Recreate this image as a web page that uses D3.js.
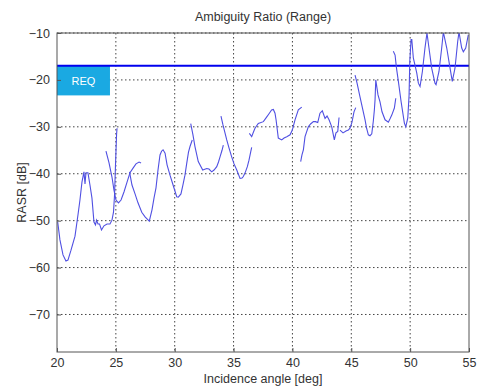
<!DOCTYPE html>
<html>
<head>
<meta charset="utf-8">
<script src="https://cdn.jsdelivr.net/npm/d3@7"></script>
<style>
  body { margin: 0; background: #fff; }
  text { font-family: "Liberation Sans", Arial, sans-serif; fill: #333; }
</style>
</head>
<body>
<div id="chart"></div>
<script>
// DATA
const xTicks = [20, 25, 30, 35, 40, 45, 50, 55];
const yTicks = [-10, -20, -30, -40, -50, -60, -70];
const reqLevel = -17;
const reqBox = [20, 24.5, -17, -23.3];   // x0, x1, y0, y1
const reqLabel = "REQ";

// each swath piece as [angle, dB]
const seg1 = [[20.06,-50.3],[20.25,-54.1],[20.51,-57.3],[20.76,-58.6],[20.93,-58.4],[21.19,-56.3],[21.53,-53.3],
  [21.78,-48.8],[21.95,-45.6],[22.12,-41.8],[22.29,-39.6],[22.38,-42.2],[22.46,-39.8],[22.63,-39.8],[22.80,-42.4],
  [22.97,-45.2],[23.14,-50.3],[23.27,-50.9],[23.36,-49.9],[23.48,-50.7],[23.61,-50.7],[23.78,-52.0],[23.99,-51.1],
  [24.25,-50.7],[24.50,-50.7],[24.67,-49.9],[24.80,-48.2],[24.89,-44.5],[24.97,-38.1],[25.06,-31.7],[25.10,-30.3]];
const seg2 = [[24.16,-35.2],[24.42,-37.7],[24.67,-40.7],[24.84,-43.5],[25.01,-45.6],[25.22,-46.2],[25.44,-45.6],
  [25.69,-43.9],[25.95,-41.8],[26.20,-39.8],[26.46,-38.8],[26.71,-37.9],[26.97,-37.5],[27.14,-37.7]];
const seg3 = [[26.16,-39.6],[26.37,-42.4],[26.63,-44.3],[26.88,-46.2],[27.20,-48.2],[27.48,-49.2],[27.84,-50.1],
  [28.07,-47.7],[28.24,-45.2],[28.41,-43.0],[28.58,-39.2],[28.75,-36.0],[28.88,-35.2],[29.01,-34.9],[29.18,-35.6],
  [29.35,-38.1],[29.60,-40.3],[29.86,-42.4],[30.17,-44.9],[30.31,-45.0],[30.53,-44.3],[30.70,-42.4],[30.87,-40.3],
  [31.02,-37.8],[31.17,-35.4],[31.30,-34.2],[31.49,-32.8]];
const seg4 = [[31.36,-29.3],[31.55,-31.7],[31.72,-34.2],[32.00,-37.4],[32.38,-39.2],[32.72,-38.9],[32.91,-39.0],
  [33.14,-39.6],[33.34,-39.2],[33.57,-38.5],[33.72,-37.5],[33.85,-36.4],[34.02,-35.0],[34.13,-33.9]];
const seg5 = [[33.93,-27.7],[34.10,-29.6],[34.42,-32.8],[34.61,-34.5],[34.84,-36.4],[35.04,-37.9],[35.27,-39.2],
  [35.55,-41.0],[35.72,-40.9],[35.83,-40.6],[36.01,-39.6],[36.17,-38.5],[36.31,-37.1],[36.46,-35.3],[36.54,-34.4]];
const seg6 = [[36.34,-31.4],[36.54,-32.1],[36.69,-31.1],[36.82,-30.3],[37.10,-29.3],[37.53,-28.9],[37.76,-28.1],
  [38.04,-27.1],[38.23,-26.4],[38.38,-26.3],[38.52,-27.1],[38.61,-28.5],[38.80,-32.4],[39.09,-32.8],[39.29,-32.4],
  [39.52,-32.1],[39.80,-31.7],[39.99,-30.7],[40.22,-28.5],[40.50,-26.4],[40.79,-25.8]];
const seg7 = [[40.70,-37.4],[40.81,-36.0],[40.93,-34.9],[41.07,-32.1],[41.35,-30.0],[41.54,-29.4],[41.78,-28.9],
  [41.96,-28.9],[42.15,-29.1],[42.34,-27.1],[42.54,-26.6],[42.77,-28.2],[42.94,-27.7],[43.11,-28.5],[43.34,-30.0],
  [43.56,-32.8],[43.70,-31.3],[43.85,-31.0],[43.96,-28.0]];
const seg8 = [[44.04,-30.7],[44.30,-31.3],[44.55,-30.9],[44.75,-30.7],[44.89,-30.3],[45.06,-29.0],[45.23,-26.8],[45.38,-25.9]];
const seg9 = [[45.32,-19.0],[45.49,-20.7],[45.74,-23.6],[45.95,-26.0],[46.17,-28.5],[46.30,-30.3],[46.45,-31.7],
  [46.59,-31.9],[46.74,-31.5],[46.87,-28.8],[46.96,-26.4],[47.02,-24.2],[47.08,-20.0],[47.27,-23.2],[47.44,-24.7],
  [47.61,-26.8],[47.87,-28.5],[48.15,-29.0],[48.29,-28.3],[48.44,-27.5],[48.66,-26.0],[48.78,-23.9]];
const seg10 = [[48.57,-13.9],[48.72,-14.7],[48.84,-17.5],[49.00,-20.3],[49.23,-24.6],[49.51,-29.2],[49.63,-30.0],
  [49.80,-28.1],[49.91,-23.2],[49.97,-16.0],[50.08,-11.4],[50.14,-11.4],[50.27,-15.3],[50.56,-18.5],[50.70,-20.7],
  [50.84,-21.4],[51.04,-18.2],[51.26,-13.2],[51.43,-10.0],[51.60,-13.2],[51.83,-17.5],[52.11,-20.7],[52.20,-21.0],
  [52.45,-18.2],[52.68,-13.2],[52.82,-9.8],[53.11,-13.2],[53.39,-17.5],[53.58,-20.3],[53.81,-17.5],[54.04,-11.8],
  [54.15,-9.8],[54.38,-13.2],[54.52,-14.0],[54.72,-13.2],[54.94,-10.4]];
const segments = [seg1, seg2, seg3, seg4, seg5, seg6, seg7, seg8, seg9, seg10];

const width = 479, height = 388;
const margin = {top: 33, right: 10, bottom: 36, left: 57};

const svg = d3.select("#chart").append("svg")
  .attr("width", width)
  .attr("height", height);

// SCALES
const xScale = d3.scaleLinear().domain([20, 55]).range([margin.left, width - margin.right]);
const yScale = d3.scaleLinear().domain([-78, -10]).range([height - margin.bottom, margin.top]);

// clip for the curve
svg.append("clipPath").attr("id", "plotclip")
  .append("rect")
  .attr("x", margin.left).attr("y", margin.top)
  .attr("width", xScale(55) - margin.left)
  .attr("height", yScale(-78) - margin.top);

// GRID
svg.append("g")
  .selectAll("line")
  .data(xTicks.slice(1, -1))
  .join("line")
  .attr("x1", d => xScale(d)).attr("x2", d => xScale(d))
  .attr("y1", margin.top).attr("y2", yScale(-78))
  .attr("stroke", "#444").attr("stroke-width", 1).attr("stroke-dasharray", "1.5,2.5");

svg.append("g")
  .selectAll("line")
  .data(yTicks)
  .join("line")
  .attr("x1", margin.left).attr("x2", xScale(55))
  .attr("y1", d => yScale(d)).attr("y2", d => yScale(d))
  .attr("stroke", "#444").attr("stroke-width", 1).attr("stroke-dasharray", "1.5,2.5");

// REQ box + line
svg.append("rect")
  .attr("x", xScale(reqBox[0]))
  .attr("y", yScale(reqBox[2]))
  .attr("width", xScale(reqBox[1]) - xScale(reqBox[0]))
  .attr("height", yScale(reqBox[3]) - yScale(reqBox[2]))
  .attr("fill", "#1aa9e2");

svg.append("text")
  .attr("x", xScale((reqBox[0] + reqBox[1]) / 2))
  .attr("y", yScale((reqBox[2] + reqBox[3]) / 2) + 4)
  .attr("text-anchor", "middle")
  .style("font-size", "11px")
  .style("fill", "#fff")
  .text(reqLabel);

svg.append("line")
  .attr("x1", xScale(20)).attr("x2", xScale(55))
  .attr("y1", yScale(reqLevel)).attr("y2", yScale(reqLevel))
  .attr("stroke", "#0000ee").attr("stroke-width", 2);

// CURVE
const line = d3.line().x(d => xScale(d[0])).y(d => yScale(d[1]));
svg.append("g").attr("clip-path", "url(#plotclip)")
  .selectAll("path")
  .data(segments)
  .join("path")
  .attr("d", line)
  .attr("fill", "none")
  .attr("stroke", "#5050e2")
  .attr("stroke-width", 1.1);

// AXES (box + inner ticks)
const axisColor = "#555";
svg.append("rect")
  .attr("x", margin.left).attr("y", margin.top)
  .attr("width", xScale(55) - margin.left)
  .attr("height", yScale(-78) - margin.top)
  .attr("fill", "none").attr("stroke", axisColor).attr("stroke-width", 1);

const xAxis = d3.axisBottom(xScale).tickValues(xTicks).tickSize(-4).tickPadding(6);
const yAxis = d3.axisLeft(yScale).tickValues(yTicks).tickSize(-4).tickPadding(7).tickFormat(d3.format("d"));

const xAxisGroup = svg.append("g")
  .attr("transform", `translate(0, ${yScale(-78)})`)
  .call(xAxis);
const yAxisGroup = svg.append("g")
  .attr("transform", `translate(${margin.left}, 0)`)
  .call(yAxis);

[xAxisGroup, yAxisGroup].forEach(g => {
  g.select(".domain").remove();
  g.selectAll(".tick line").attr("stroke", axisColor);
  g.selectAll(".tick text").style("font-size", "12.5px").style("fill", "#333")
    .style("font-family", "'Liberation Sans', Arial, sans-serif");
});

// labels
svg.append("text")
  .attr("x", (margin.left + xScale(55)) / 2)
  .attr("y", 383)
  .attr("text-anchor", "middle")
  .style("font-size", "12.5px")
  .text("Incidence angle [deg]");

svg.append("text")
  .attr("transform", `translate(26, ${(margin.top + yScale(-78)) / 2}) rotate(-90)`)
  .attr("text-anchor", "middle")
  .style("font-size", "12.5px")
  .text("RASR [dB]");

// Title
svg.append("text")
  .attr("x", (margin.left + xScale(55)) / 2)
  .attr("y", 21)
  .attr("text-anchor", "middle")
  .style("font-size", "12.5px")
  .text("Ambiguity Ratio (Range)");
</script>
</body>
</html>
